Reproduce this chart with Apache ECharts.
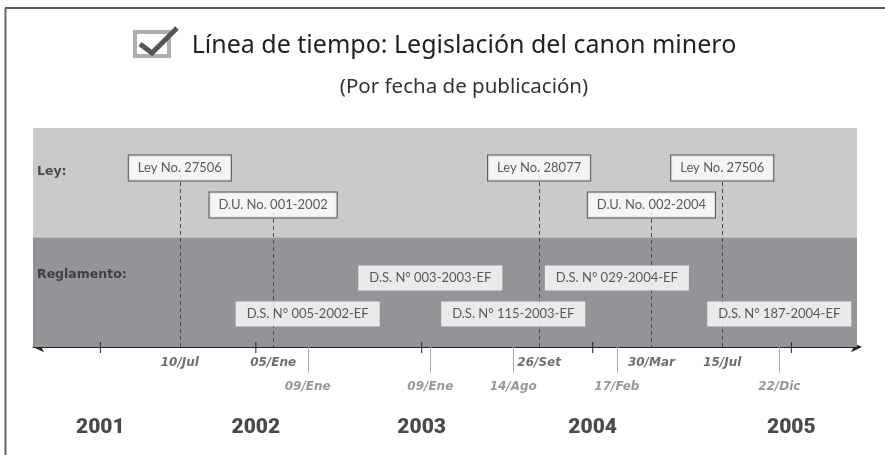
<!DOCTYPE html>
<html>
<head>
<meta charset="utf-8">
<script src="https://cdn.jsdelivr.net/npm/echarts@6/dist/echarts.min.js"></script>
<style>
  html, body { margin: 0; padding: 0; background: #fff; }
  #timeline { width: 885px; height: 455px; }
</style>
</head>
<body>
<div id="timeline"></div>
<script>
const years = ['2001', '2002', '2003', '2004', '2005'];
const yearPos = [2001.00, 2001.90, 2002.86, 2003.85, 2005.00];

const docNames = ['Ley No. 27506', 'D.U. No. 001-2002', 'D.S. N° 005-2002-EF', 'D.S. N° 003-2003-EF',
    'D.S. N° 115-2003-EF', 'Ley No. 28077', 'D.S. N° 029-2004-EF', 'D.U. No. 002-2004',
    'Ley No. 27506', 'D.S. N° 187-2004-EF'];
const docDates = ['10/Jul', '05/Ene', '09/Ene', '09/Ene', '14/Ago', '26/Set', '17/Feb', '30/Mar', '15/Jul', '22/Dic'];
const docTypes = ['Ley', 'Ley', 'Reglamento', 'Reglamento', 'Reglamento', 'Ley', 'Reglamento', 'Ley', 'Ley', 'Reglamento'];
const docPos = [2001.46, 2002.00, 2002.20, 2002.91, 2003.39, 2003.54, 2003.99, 2004.19, 2004.60, 2004.93];
const docLane = [1, 2, 2, 1, 2, 1, 1, 2, 1, 2];

const bands = ['Ley:', 'Reglamento:'];

// layout of the rows (y units: 1 = one band)
const xMin = 2000.61, xMax = 2005.38;
const laneY = { Ley: [1.635, 1.297], Reglamento: [0.630, 0.301] };
const dateY = { Ley: -0.146, Reglamento: -0.365 };
const font = 'Lato, "Noto Sans", sans-serif';
const titleFont = '"Noto Sans", Lato, sans-serif';
const boldFont = '"DejaVu Sans", Lato, sans-serif';

const chartDom = document.getElementById('timeline');
const chart = echarts.init(chartDom);

const boxData = docNames.map(function (name, i) {
    const isLey = docTypes[i] === 'Ley';
    return {
        value: [docPos[i], laneY[docTypes[i]][docLane[i] - 1]],
        name: name,
        label: {
            backgroundColor: '#fff',
            borderColor: isLey ? '#3a3a3a' : '#fff',
            borderWidth: isLey ? 1 : 0,
            padding: isLey ? [5, 9, 5, 9] : [5, 11, 5, 11]
        }
    };
});

const dateData = docDates.map(function (d, i) {
    const isLey = docTypes[i] === 'Ley';
    return {
        value: [docPos[i], dateY[docTypes[i]]],
        name: d,
        label: { color: isLey ? '#4a4a4c' : '#7d7d80' }
    };
});

let option = {
    animation: false,
    grid: { left: 33, right: 28, top: 128, bottom: 9.45, containLabel: false },
    xAxis: {
        type: 'value',
        min: xMin,
        max: xMax,
        axisLine: {
            show: true,
            onZero: true,
            symbol: ['arrow', 'arrow'],
            symbolSize: [8, 11],
            symbolOffset: [0, 5],
            lineStyle: { color: '#222', width: 1 }
        },
        axisTick: { show: false },
        axisLabel: { show: false },
        splitLine: { show: false }
    },
    yAxis: {
        type: 'value',
        min: -0.9,
        max: 2,
        show: false
    },
    graphic: [
        // frame
        { type: 'line', shape: { x1: 5, y1: 8, x2: 885, y2: 8 }, style: { stroke: '#222', lineWidth: 1.5 } },
        { type: 'line', shape: { x1: 5.5, y1: 8, x2: 5.5, y2: 455 }, style: { stroke: '#666', lineWidth: 2 } },
        // check box icon
        { type: 'rect', shape: { x: 135, y: 32, width: 34, height: 24 }, style: { fill: '#fff', stroke: '#adadad', lineWidth: 4 } },
        { type: 'polyline', shape: { points: [[140, 44], [152, 53], [177, 28]] }, style: { fill: null, stroke: '#555', lineWidth: 5 } },
        {
            type: 'text', x: 464, y: 46,
            style: { text: 'Línea de tiempo: Legislación del canon minero', font: '25px ' + titleFont, fill: '#231f20', align: 'center', verticalAlign: 'middle' }
        },
        {
            type: 'text', x: 464, y: 87,
            style: { text: '(Por fecha de publicación)', font: '20.5px ' + titleFont, fill: '#333', align: 'center', verticalAlign: 'middle' }
        }
    ],
    series: [
        {
            // year ticks + background bands
            name: 'years',
            type: 'custom',
            silent: true,
            z: 2,
            data: yearPos.map(function (p) { return [p]; }),
            renderItem: function (params, api) {
                const a = api.coord([api.value(0), 0.046]);
                const b = api.coord([api.value(0), -0.055]);
                return { type: 'line', shape: { x1: a[0], y1: a[1], x2: b[0], y2: b[1] }, style: { stroke: '#222', lineWidth: 1 } };
            },
            markArea: {
                silent: true,
                label: { show: false },
                data: [
                    [{ xAxis: xMin, yAxis: 1, itemStyle: { color: '#c9cacc' } }, { xAxis: xMax, yAxis: 2 }],
                    [{ xAxis: xMin, yAxis: 0, itemStyle: { color: '#939497' } }, { xAxis: xMax, yAxis: 1 }]
                ]
            }
        },
        {
            // connectors: dashed for leyes, solid below the axis for reglamentos
            name: 'connectors',
            type: 'custom',
            silent: true,
            z: 3,
            data: docPos.map(function (p, i) { return [p, docTypes[i] === 'Ley' ? 1 : 0, docLane[i]]; }),
            renderItem: function (params, api) {
                const isLey = api.value(1) === 1;
                const top = isLey ? laneY.Ley[api.value(2) - 1] : 0;
                const bottom = isLey ? 0 : -0.237;
                const a = api.coord([api.value(0), top]);
                const b = api.coord([api.value(0), bottom]);
                return {
                    type: 'line',
                    shape: { x1: Math.round(a[0]) + 0.5, y1: a[1], x2: Math.round(b[0]) + 0.5, y2: b[1] },
                    style: isLey ? { stroke: '#4a4a4c', lineWidth: 1, lineDash: [4, 3] } : { stroke: '#a9a9ab', lineWidth: 1 }
                };
            }
        },
        {
            name: 'documentos',
            type: 'scatter',
            symbolSize: 0,
            z: 4,
            data: boxData,
            label: {
                show: true,
                position: 'inside',
                formatter: '{b}',
                fontFamily: font,
                fontSize: 13,
                color: '#333',
                lineHeight: 15
            }
        },
        {
            name: 'fechas',
            type: 'scatter',
            symbolSize: 0,
            z: 4,
            data: dateData,
            label: {
                show: true,
                position: 'inside',
                formatter: '{b}',
                fontFamily: boldFont,
                fontSize: 12,
                fontWeight: 'bold',
                fontStyle: 'italic'
            }
        },
        {
            name: 'anios',
            type: 'scatter',
            symbolSize: 0,
            z: 4,
            data: years.map(function (y, i) { return { value: [yearPos[i], -0.74], name: y }; }),
            label: {
                show: true,
                position: 'inside',
                formatter: '{b}',
                fontFamily: 'Roboto, Lato, sans-serif',
                fontSize: 21,
                fontWeight: 900,
                color: '#1e1b1c'
            }
        },
        {
            name: 'bandas',
            type: 'scatter',
            symbolSize: 0,
            z: 4,
            data: [[xMin, 1.60], [xMin, 0.658]].map(function (v, i) { return { value: v, name: bands[i] }; }),
            label: {
                show: true,
                position: 'right',
                distance: 4,
                formatter: '{b}',
                fontFamily: boldFont,
                fontSize: 12.5,
                fontWeight: 'bold',
                color: '#2a2a2a'
            }
        }
    ]
};

option && chart.setOption(option);
</script>
</body>
</html>
